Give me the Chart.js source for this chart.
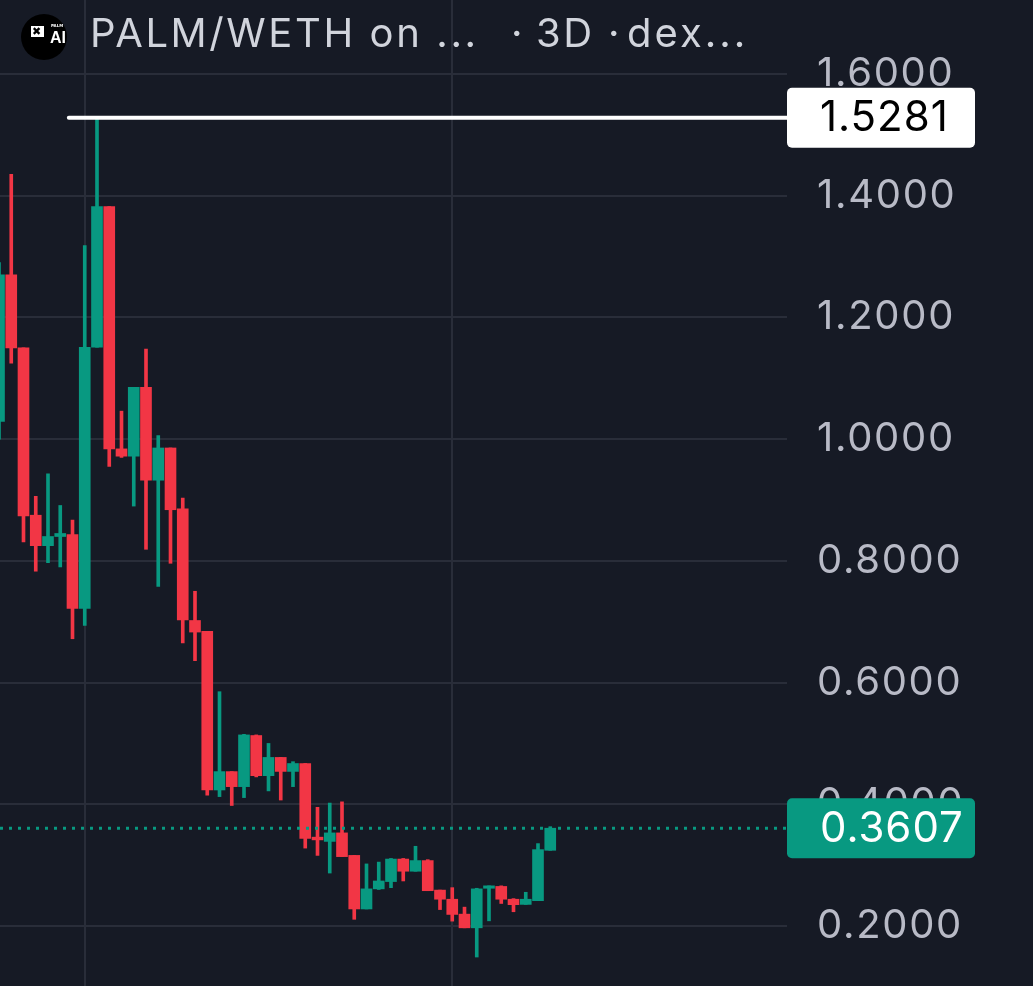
<!DOCTYPE html>
<html><head><meta charset="utf-8">
<script src="https://cdn.jsdelivr.net/npm/chart.js@4.4.1/dist/chart.umd.min.js"></script>
<style>
html,body{margin:0;padding:0;background:#161a25;}
#wrap{position:relative;width:1033px;height:986px;overflow:hidden;background:#161a25;}
canvas{display:block;}
.t{position:absolute;top:13px;line-height:40px;font-family:Inter,"Noto Sans",sans-serif;font-size:40px;color:#d1d4dc;white-space:pre;letter-spacing:2.6px;}
#logo{position:absolute;left:21px;top:14px;width:46px;height:46px;border-radius:50%;background:#000;}
#logo .sq{position:absolute;left:10px;top:12px;width:13px;height:11px;background:#fff;}
#logo .ic{position:absolute;left:1px;top:-1px;font-family:"DejaVu Sans",sans-serif;font-size:11px;line-height:13px;color:#000;font-weight:bold;}
#logo .pm{position:absolute;left:30px;top:10px;font-family:"DejaVu Sans",sans-serif;font-size:4px;line-height:4px;color:#fff;font-weight:bold;}
#logo .ai{position:absolute;left:29px;top:16px;font-family:"Liberation Sans",sans-serif;font-size:16px;line-height:15px;color:#fff;font-weight:bold;}
</style></head>
<body>
<div id="wrap">
<canvas id="c" width="1033" height="986"></canvas>
<div id="logo"><div class="sq"><span class="ic">✖</span></div><span class="pm">PALM</span><span class="ai">AI</span></div>
<div class="t" style="left:90px">PALM/WETH on ...</div>
<div class="t" style="left:511px">·</div>
<div class="t" style="left:536px">3D</div>
<div class="t" style="left:608px">·</div>
<div class="t" style="left:627px;letter-spacing:3px">dex...</div>
</div>
<script>
// candle index (3-day bars)
const candleIndex = [0,1,2,3,4,5,6,7,8,9,10,11,12,13,14,15,16,17,18,19,20,21,22,23,24,25,26,27,28,29,30,31,32,33,34,35,36,37,38,39,40,41,42,43,44,45];
const opens  = [1.029,1.270,1.150,0.875,0.825,0.840,0.843,0.722,1.151,1.382,0.984,0.972,1.085,0.9325,0.9855,0.8855,0.702,0.684,0.4235,0.4537,0.429,0.513,0.447,0.477,0.454,0.467,0.346,0.339,0.353,0.316,0.228,0.261,0.273,0.310,0.290,0.3075,0.259,0.244,0.2195,0.197,0.262,0.265,0.244,0.2355,0.2416,0.3244];
const highs  = [1.290,1.435,1.150,0.906,0.943,0.891,0.867,1.318,1.5281,1.382,1.046,1.085,1.148,1.006,0.9855,0.903,0.750,0.684,0.585,0.4537,0.515,0.514,0.500,0.477,0.470,0.467,0.395,0.402,0.404,0.316,0.302,0.305,0.311,0.311,0.331,0.309,0.259,0.263,0.231,0.262,0.266,0.266,0.245,0.2554,0.3354,0.363];
const lows   = [1.000,1.125,0.831,0.783,0.797,0.790,0.672,0.694,1.151,0.955,0.970,0.890,0.819,0.758,0.796,0.665,0.636,0.415,0.4126,0.398,0.411,0.445,0.422,0.407,0.429,0.328,0.316,0.287,0.314,0.211,0.228,0.260,0.263,0.274,0.290,0.258,0.227,0.208,0.197,0.149,0.2085,0.237,0.2234,0.2355,0.2416,0.3244];
const closes = [1.270,1.150,0.874,0.825,0.840,0.845,0.722,1.151,1.382,0.984,0.972,1.085,0.9325,0.9855,0.884,0.703,0.683,0.4235,0.4537,0.429,0.514,0.447,0.477,0.454,0.467,0.344,0.3415,0.353,0.314,0.228,0.261,0.274,0.310,0.290,0.3075,0.258,0.244,0.219,0.197,0.261,0.266,0.244,0.235,0.244,0.3255,0.3607];
const yTicks = [0.2,0.4,0.6,0.8,1.0,1.2,1.4,1.6];
const xGridAt = [7,37];
const highPrice = 1.5281;
const lastPrice = 0.3607;

const UP = '#089981', DOWN = '#f23645';
const colors = opens.map((o,i)=> closes[i] >= o ? UP : DOWN);
const bodies = candleIndex.map((x,i)=>({x, y:[opens[i], closes[i]]}));
const wicks  = candleIndex.map((x,i)=>({x, y:[lows[i], highs[i]]}));
const highIdx = highs.indexOf(Math.max(...highs));
const FONT = 'Inter, "Noto Sans", sans-serif';

const overlay = {
  id:'overlay',
  beforeDraw(chart){ chart.ctx.letterSpacing = '1.7px'; },
  afterDatasetsDraw(chart){
    const {ctx, chartArea:a, scales:{x,y}} = chart;
    ctx.save();
    const yl = y.getPixelForValue(lastPrice);
    ctx.strokeStyle = UP; ctx.lineWidth = 3; ctx.setLineDash([3,6]);
    ctx.beginPath(); ctx.moveTo(a.left, yl); ctx.lineTo(a.right, yl); ctx.stroke();
    const yh = y.getPixelForValue(highPrice);
    ctx.setLineDash([]); ctx.strokeStyle = '#ffffff'; ctx.lineWidth = 4; ctx.lineCap = 'round';
    ctx.beginPath(); ctx.moveTo(x.getPixelForValue(highIdx - 2.3), yh); ctx.lineTo(a.right, yh); ctx.stroke();
    ctx.restore();
  },
  afterDraw(chart){
    const {ctx, chartArea:a, scales:{y}} = chart;
    const box = (val, bg, fg) => {
      const cy = y.getPixelForValue(val);
      ctx.save();
      ctx.fillStyle = bg;
      ctx.beginPath();
      ctx.roundRect(a.right, cy - 30, 188, 60, 5);
      ctx.fill();
      ctx.fillStyle = fg;
      ctx.letterSpacing = '1px';
      ctx.font = '42px ' + FONT;
      ctx.textAlign = 'left'; ctx.textBaseline = 'middle';
      ctx.fillText(val.toFixed(4), a.right + 33, cy + 1);
      ctx.restore();
    };
    box(highPrice, '#ffffff', '#000000');
    box(lastPrice, UP, '#ffffff');
  }
};

new Chart(document.getElementById('c'), {
  type:'bar',
  data:{ datasets:[
    { data: wicks, backgroundColor: colors, barThickness: 3, grouped:false, borderWidth:0, minBarLength:1, order:2 },
    { data: bodies, backgroundColor: colors, barThickness: 11, grouped:false, borderWidth:0, minBarLength:2, order:1 }
  ]},
  options:{
    responsive:false, animation:false,
    layout:{padding:0},
    plugins:{legend:{display:false}, tooltip:{enabled:false}, title:{display:false}},
    scales:{
      x:{ type:'linear', offset:false, min: 1/12.25, max: 1/12.25 + 787/12.25,
          grid:{color:'#292d39', lineWidth:2, drawTicks:false, offset:false}, border:{display:false},
          ticks:{display:false},
          afterBuildTicks(s){ s.ticks = xGridAt.map(v=>({value:v})); },
          afterFit(s){ s.height = 0; s.paddingLeft = 0; s.paddingRight = 0; } },
      y:{ type:'linear', position:'right', min: 0.2 - 60/121.714*0.2, max: 1.6 + 74/121.714*0.2,
          grid:{color:'#292d39', lineWidth:2, drawTicks:false}, border:{display:false},
          ticks:{ color:'#b8bac6', padding:30, font:{family:FONT, size:40},
                  callback:(v)=>Number(v).toFixed(4) },
          afterBuildTicks(s){ s.ticks = yTicks.map(v=>({value:v})); },
          afterFit(s){ s.width = 246; s.paddingTop = 0; s.paddingBottom = 0; } }
    }
  },
  plugins:[overlay]
});
</script>
</body></html>
